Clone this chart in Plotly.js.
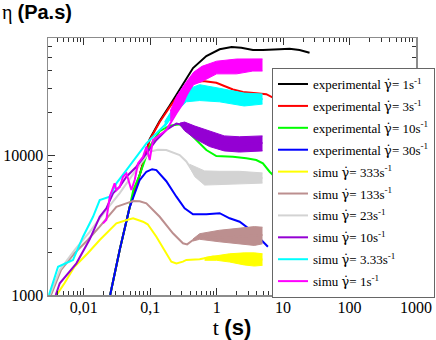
<!DOCTYPE html>
<html>
<head>
    <meta charset="utf-8">
    <script src="https://cdn.plot.ly/plotly-3.0.1.min.js"></script>
    <style>body { margin: 0; }</style>
</head>
<body>
    <div id="myDiv" style="width: 436px; height: 340px;"></div>
    <script>
        // experimental curves : t (s) / eta (Pa.s)
        var exp1T = [0.025, 0.0348, 0.0492, 0.0695, 0.0983, 0.139, 0.196, 0.278, 0.35, 0.441, 0.70, 1.11, 1.68, 2.35, 3.52, 4.97, 8.86, 12.5, 17.7, 25];
        var exp1Eta = [1000, 2100, 4250, 7200, 13000, 17500, 22500, 29500, 35500, 41800, 50900, 56900, 59000, 58300, 56200, 56200, 56900, 57400, 56200, 53800];

        var exp3T = [0.025, 0.0348, 0.0492, 0.0695, 0.0983, 0.139, 0.196, 0.278, 0.35, 0.441, 0.622, 0.99, 1.76, 2.49, 3.95, 5.59, 7.91, 11.2, 14.9];
        var exp3Eta = [1000, 2100, 4250, 7200, 12800, 17200, 22000, 27500, 30500, 32800, 33800, 32800, 29400, 28200, 27600, 27200, 25000, 23000, 21700];

        var exp10T = [0.025, 0.0348, 0.0492, 0.0557, 0.0695, 0.0983, 0.139, 0.196, 0.278, 0.35, 0.495, 0.70, 0.99, 1.76, 2.80, 3.95, 4.97, 6.27, 7.91];
        var exp10Eta = [1000, 2100, 4250, 5620, 7200, 11500, 14800, 16200, 16600, 15100, 12800, 10860, 9840, 9720, 9470, 9210, 8720, 7600, 6820];

        var exp30T = [0.025, 0.0348, 0.0492, 0.0695, 0.0877, 0.107, 0.124, 0.175, 0.248, 0.33, 0.441, 0.70, 1.11, 1.57, 2.22, 3.52, 4.43, 5.91];
        var exp30Eta = [1000, 2100, 4250, 6630, 7600, 7920, 7810, 6500, 5040, 4160, 3770, 3770, 3840, 3530, 3340, 2830, 2540, 2210];

        // simulations (mean curve)
        var sim333T = [0.0039, 0.00513, 0.00725, 0.0115, 0.0174, 0.031, 0.0459, 0.0553, 0.078, 0.0917, 0.124, 0.175, 0.208, 0.248, 0.311, 0.35, 0.555, 0.88, 1.2, 1.8, 2.6, 3.5, 4.9];
        var sim333Eta = [1000, 1213, 1592, 1986, 2470, 3250, 3450, 3530, 3340, 3200, 2610, 1986, 1730, 1683, 1730, 1780, 1800, 1880, 1850, 1820, 1800, 1790, 1790];

        var sim133T = [0.00322, 0.00456, 0.00725, 0.0115, 0.0174, 0.031, 0.0459, 0.0553, 0.0695, 0.0877, 0.139, 0.22, 0.311, 0.36, 0.441, 0.555, 0.8, 1.2, 1.8, 2.6, 3.5, 4.9];
        var sim133Eta = [1000, 1510, 1986, 2470, 3080, 4270, 4550, 4690, 4680, 4520, 3620, 2760, 2340, 2300, 2470, 2610, 2600, 2580, 2600, 2620, 2650, 2680];

        var sim23T = [0.00308, 0.00436, 0.00733, 0.0123, 0.0207, 0.0348, 0.0585, 0.0826, 0.0983, 0.13, 0.175, 0.278, 0.35, 0.441, 0.622, 0.9, 1.3, 1.9, 2.8, 3.8, 4.9];
        var sim23Eta = [1000, 1510, 2100, 2820, 3920, 5350, 7570, 9520, 10560, 10900, 10860, 10000, 9000, 7600, 6850, 6850, 6850, 6850, 6850, 6850, 6850];

        var sim10T = [0.00379, 0.00436, 0.00776, 0.0123, 0.0174, 0.0219, 0.0276, 0.0348, 0.0439, 0.062, 0.0877, 0.124, 0.175, 0.248, 0.311, 0.441, 0.70, 1.11, 1.98, 3.13, 4.9];
        var sim10Eta = [1000, 1213, 1683, 2500, 3620, 4160, 5320, 5940, 7000, 8250, 10280, 12800, 15100, 16800, 16400, 14800, 13700, 12200, 11600, 12100, 12200];

        var sim3T = [0.003, 0.00411, 0.0069, 0.00975, 0.0138, 0.0174, 0.0246, 0.031, 0.0439, 0.062, 0.0877, 0.11, 0.175, 0.278, 0.35, 0.555, 0.88, 1.4, 2.22, 3.52, 4.92];
        var sim3Eta = [1000, 1592, 1780, 2610, 3620, 4770, 5040, 6280, 7810, 9720, 12100, 13500, 16800, 23400, 27000, 28500, 27500, 26300, 25100, 24700, 25100];

        var sim1T = [0.0195, 0.0219, 0.0246, 0.0292, 0.031, 0.0348, 0.039, 0.0439, 0.0521, 0.0585, 0.0656, 0.078, 0.0877, 0.0983, 0.110, 0.139, 0.175, 0.248, 0.311, 0.441, 0.70, 1.11, 1.76, 2.8, 4.7];
        var sim1Eta = [3250, 3440, 5040, 6280, 5620, 5910, 7000, 7400, 5620, 6630, 8720, 9720, 11460, 9210, 12800, 14000, 15100, 19900, 23400, 34300, 42800, 45200, 45800, 45800, 44700];

        // spread of the simulation noise (upper / lower edge of the band)
        var sim333NoiseT = [0.66, 1.0, 1.57, 2.6, 3.7, 4.9];
        var sim333NoiseHi = [1850, 1910, 1970, 2000, 2000, 1970];
        var sim333NoiseLo = [1770, 1770, 1720, 1640, 1610, 1630];

        var sim133NoiseT = [0.44, 0.555, 1.1, 2.2, 3.7, 4.9];
        var sim133NoiseHi = [2510, 2740, 2900, 3000, 3080, 3050];
        var sim133NoiseLo = [2430, 2500, 2400, 2320, 2260, 2320];

        var sim23NoiseT = [0.39, 0.47, 0.66, 1.1, 2.2, 4.9];
        var sim23NoiseHi = [8600, 8300, 7700, 7650, 7650, 7450];
        var sim23NoiseLo = [8250, 7000, 6100, 6150, 6250, 6300];

        var sim10NoiseT = [0.28, 0.33, 0.47, 0.78, 1.3, 2.2, 4.9];
        var sim10NoiseHi = [16900, 17200, 16100, 14800, 13700, 13500, 13700];
        var sim10NoiseLo = [16500, 14900, 13100, 11500, 10700, 10500, 10700];

        var sim3NoiseT = [0.165, 0.23, 0.35, 0.555, 1.1, 2.6, 4.9];
        var sim3NoiseHi = [17300, 22300, 29300, 31800, 30000, 27700, 27300];
        var sim3NoiseLo = [15800, 19700, 24000, 24500, 24000, 22400, 23100];

        var sim1NoiseT = [0.2, 0.25, 0.33, 0.45, 0.6, 1.0, 2.0, 3.5, 4.9];
        var sim1NoiseHi = [20600, 26300, 32000, 39000, 43000, 46800, 48500, 48600, 48600];
        var sim1NoiseLo = [17400, 20500, 25700, 31800, 33500, 38000, 38000, 39800, 39800];

        var dg = '<span style="font-family:DejaVu Serif">\u03b3\u0307</span>';
        var names = [
            'experimental ' + dg + '= 1s<sup>-1</sup>',
            'experimental ' + dg + '= 3s<sup>-1</sup>',
            'experimental ' + dg + '= 10s<sup>-1</sup>',
            'experimental ' + dg + '= 30s<sup>-1</sup>',
            'simu ' + dg + '= 333s<sup>-1</sup>',
            'simu ' + dg + '= 133s<sup>-1</sup>',
            'simu ' + dg + '= 23s<sup>-1</sup>',
            'simu ' + dg + '= 10s<sup>-1</sup>',
            'simu ' + dg + '= 3.33s<sup>-1</sup>',
            'simu ' + dg + '= 1s<sup>-1</sup>'
        ];
        var xs = [exp1T, exp3T, exp10T, exp30T, sim333T, sim133T, sim23T, sim10T, sim3T, sim1T];
        var ys = [exp1Eta, exp3Eta, exp10Eta, exp30Eta, sim333Eta, sim133Eta, sim23Eta, sim10Eta, sim3Eta, sim1Eta];
        var noiseT = [null, null, null, null, sim333NoiseT, sim133NoiseT, sim23NoiseT, sim10NoiseT, sim3NoiseT, sim1NoiseT];
        var noiseHi = [null, null, null, null, sim333NoiseHi, sim133NoiseHi, sim23NoiseHi, sim10NoiseHi, sim3NoiseHi, sim1NoiseHi];
        var noiseLo = [null, null, null, null, sim333NoiseLo, sim133NoiseLo, sim23NoiseLo, sim10NoiseLo, sim3NoiseLo, sim1NoiseLo];
        var colors = ['#000000', '#ff0000', '#00ff00', '#0000ff', '#ffff00', '#bc8f8f', '#d3d3d3', '#9400d3', '#00ffff', '#ff00ff'];

        var data = [];
        for (var i = 0; i < names.length; i++) {
            if (noiseT[i]) {
                // lower edge then upper edge filled down to it
                data.push({
                    x: noiseT[i], y: noiseLo[i], type: 'scatter', mode: 'lines',
                    legendgroup: 'g' + i, showlegend: false, hoverinfo: 'skip',
                    line: {color: colors[i], width: 1}
                });
                data.push({
                    x: noiseT[i], y: noiseHi[i], type: 'scatter', mode: 'lines',
                    legendgroup: 'g' + i, showlegend: false, hoverinfo: 'skip',
                    fill: 'tonexty', fillcolor: colors[i],
                    line: {color: colors[i], width: 1}
                });
            }
            data.push({
                x: xs[i], y: ys[i], type: 'scatter', mode: 'lines',
                name: names[i], legendgroup: 'g' + i,
                line: {color: colors[i], width: 2}
            });
        }

        var xTicks = [0.01, 0.1, 1, 10, 100, 1000];
        var xTickText = ['0,01', '0,1', '1', '10', '100', '1000'];
        var yTicks = [1000, 10000];
        var yTickText = ['1000', '10000'];

        var xMinor = [];
        for (var d = 0.001; d < 1000; d *= 10) {
            for (var k = 2; k <= 9; k++) xMinor.push(+(k * d).toPrecision(2));
        }
        var yMinor = [];
        for (var d2 = 1000; d2 < 100000; d2 *= 10) {
            for (var k2 = 2; k2 <= 9; k2++) yMinor.push(k2 * d2);
        }

        var tickFont = {family: 'Liberation Serif', size: 16, color: '#000'};
        var layout = {
            width: 436,
            height: 340,
            margin: {l: 48, r: 20, t: 38, b: 45, autoexpand: false},
            paper_bgcolor: 'white',
            plot_bgcolor: 'white',
            showlegend: true,
            xaxis: {
                type: 'log',
                range: [Math.log10(0.0029), 3],
                tickmode: 'array', tickvals: xTicks, ticktext: xTickText,
                ticks: 'inside', ticklen: 7, tickcolor: '#333',
                ticklabelstandoff: -3,
                minor: {tickmode: 'array', tickvals: xMinor, ticks: 'inside', ticklen: 4, tickcolor: '#333', showgrid: false},
                showline: true, linecolor: '#8c8c8c', linewidth: 1.5, mirror: 'ticks',
                showgrid: false, zeroline: false,
                tickfont: tickFont,
                title: {
                    text: 't <span style="font-family:Liberation Sans;font-weight:bold">(s)</span>',
                    font: {family: 'Liberation Serif', size: 22, color: '#000'},
                    standoff: 2
                }
            },
            yaxis: {
                type: 'log',
                range: [3, 4.836],
                tickmode: 'array', tickvals: yTicks, ticktext: yTickText,
                ticks: 'inside', ticklen: 7, tickcolor: '#333',
                minor: {tickmode: 'array', tickvals: yMinor, ticks: 'inside', ticklen: 4, tickcolor: '#333', showgrid: false},
                showline: true, linecolor: '#8c8c8c', linewidth: 1.5, mirror: 'ticks',
                showgrid: false, zeroline: false,
                tickfont: tickFont
            },
            legend: {
                x: 1.0516, xanchor: 'right', y: 0.883, yanchor: 'top',
                bgcolor: 'white', bordercolor: '#666', borderwidth: 1,
                font: {family: 'Liberation Serif', size: 13, color: '#000'},
                traceorder: 'grouped', tracegroupgap: 2
            },
            annotations: [{
                xref: 'paper', yref: 'paper', x: -0.13, y: 1.1,
                xanchor: 'left', yanchor: 'middle', showarrow: false,
                text: '\u03b7 <span style="font-family:Liberation Sans;font-weight:bold">(Pa.s)</span>',
                font: {family: 'Liberation Serif', size: 20, color: '#000'}
            }]
        };

        var config = {displayModeBar: false, staticPlot: true};

        Plotly.newPlot('myDiv', data, layout, config);
    </script>
</body>
</html>
